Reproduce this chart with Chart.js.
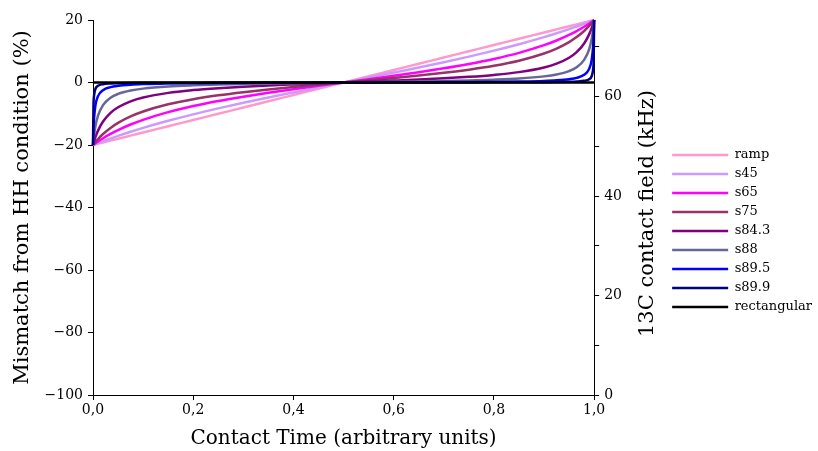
<!DOCTYPE html>
<html>
<head>
<meta charset="utf-8">
<script src="https://cdn.jsdelivr.net/npm/chart.js@4"></script>
<style>
  body { margin: 0; background: #fff; }
</style>
</head>
<body>
<canvas id="pulseChart" width="818" height="451"></canvas>
<script>
// Contact time axis (arbitrary units), denser near the pulse edges
const contactTime = [0, 0.001, 0.002, 0.005, 0.01, 0.02, 0.035, 0.05, 0.075, 0.1, 0.15, 0.2, 0.25, 0.3, 0.35, 0.4, 0.45, 0.5,
  0.55, 0.6, 0.65, 0.7, 0.75, 0.8, 0.85, 0.9, 0.925, 0.95, 0.965, 0.98, 0.99, 0.995, 0.998, 0.999, 1];

// Mismatch from HH condition (%) per pulse shape
const ramp = [-20, -19.96, -19.92, -19.8, -19.6, -19.2, -18.6, -18, -17, -16, -14, -12, -10, -8, -6, -4, -2, 0,
  2, 4, 6, 8, 10, 12, 14, 16, 17, 18, 18.6, 19.2, 19.6, 19.8, 19.92, 19.96, 20];
const s45 = [-20, -19.94, -19.87, -19.69, -19.38, -18.78, -17.92, -17.08, -15.77, -14.53, -12.26, -10.19, -8.28, -6.5, -4.8, -3.17, -1.57, 0,
  1.57, 3.17, 4.8, 6.5, 8.28, 10.19, 12.26, 14.53, 15.77, 17.08, 17.92, 18.78, 19.38, 19.69, 19.87, 19.94, 20];
const s65 = [-20, -19.88, -19.76, -19.42, -18.87, -17.83, -16.45, -15.22, -13.45, -11.94, -9.49, -7.55, -5.94, -4.55, -3.3, -2.15, -1.06, 0,
  1.06, 2.15, 3.3, 4.55, 5.94, 7.55, 9.49, 11.94, 13.45, 15.22, 16.45, 17.83, 18.87, 19.42, 19.76, 19.88, 20];
const s75 = [-20, -19.79, -19.59, -19, -18.09, -16.49, -14.53, -12.94, -10.87, -9.28, -6.98, -5.36, -4.11, -3.09, -2.22, -1.44, -0.71, 0,
  0.71, 1.44, 2.22, 3.09, 4.11, 5.36, 6.98, 9.28, 10.87, 12.94, 14.53, 16.49, 18.09, 19, 19.59, 19.79, 20];
const s843 = [-20, -19.42, -18.87, -17.4, -15.4, -12.5, -9.72, -7.93, -6.02, -4.81, -3.32, -2.43, -1.81, -1.33, -0.94, -0.61, -0.3, 0,
  0.3, 0.61, 0.94, 1.33, 1.81, 2.43, 3.32, 4.81, 6.02, 7.93, 9.72, 12.5, 15.4, 17.4, 18.87, 19.42, 20];
const s88 = [-20, -18.38, -17.01, -13.88, -10.63, -7.23, -4.87, -3.66, -2.57, -1.96, -1.29, -0.92, -0.67, -0.49, -0.35, -0.22, -0.11, 0,
  0.11, 0.22, 0.35, 0.49, 0.67, 0.92, 1.29, 1.96, 2.57, 3.66, 4.87, 7.23, 10.63, 13.88, 17.01, 18.38, 20];
const s895 = [-20, -14.73, -11.66, -7.17, -4.36, -2.45, -1.47, -1.05, -0.7, -0.52, -0.34, -0.24, -0.17, -0.13, -0.09, -0.06, -0.03, 0,
  0.03, 0.06, 0.09, 0.13, 0.17, 0.24, 0.34, 0.52, 0.7, 1.05, 1.47, 2.45, 4.36, 7.17, 11.66, 14.73, 20];
const s899 = [-20, -7.15, -4.35, -2, -1.05, -0.54, -0.31, -0.22, -0.14, -0.11, -0.07, -0.05, -0.03, -0.03, -0.02, -0.01, -0.01, 0,
  0.01, 0.01, 0.02, 0.03, 0.03, 0.05, 0.07, 0.11, 0.14, 0.22, 0.31, 0.54, 1.05, 2, 4.35, 7.15, 20];
const rectangular = [0, 0, 0, 0, 0, 0, 0, 0, 0, 0, 0, 0, 0, 0, 0, 0, 0, 0,
  0, 0, 0, 0, 0, 0, 0, 0, 0, 0, 0, 0, 0, 0, 0, 0, 0];

const shapeNames = ["ramp", "s45", "s65", "s75", "s84.3", "s88", "s89.5", "s89.9", "rectangular"];
const shapeValues = [ramp, s45, s65, s75, s843, s88, s895, s899, rectangular];
const shapeColors = ["#ff99cc", "#cc99ff", "#ff00ff", "#993366", "#800080", "#666699", "#0000ff", "#000080", "#000000"];

// Axis ticks
const timeTicks = [0, 0.2, 0.4, 0.6, 0.8, 1.0];
const mismatchTicks = [-100, -80, -60, -40, -20, 0, 20];
const fieldTicks = [0, 10, 20, 30, 40, 50, 60, 70];
const fieldMax = 75.4;

Chart.defaults.font.family = "'DejaVu Serif', serif";
Chart.defaults.color = "#000";

const setTicks = arr => scale => { scale.ticks = arr.map(v => ({ value: v })); };

// right axis title reads bottom-to-top, like the left one
const rightTitle = {
  id: "rightTitle",
  afterDraw(chart) {
    const s = chart.scales.y2;
    const ctx = chart.ctx;
    ctx.save();
    ctx.translate(s.left + 53, (s.top + s.bottom) / 2 + 6);
    ctx.rotate(-Math.PI / 2);
    ctx.font = "21px 'DejaVu Serif'";
    ctx.fillStyle = "#000";
    ctx.textAlign = "center";
    ctx.textBaseline = "middle";
    ctx.fillText("13C contact field (kHz)", 0, 0);
    ctx.restore();
  }
};

const axisGrid = { display: true, drawOnChartArea: false, tickLength: 5, color: "#000", tickColor: "#000" };

function drawChart() {
  const ctx = document.getElementById("pulseChart").getContext("2d");
  new Chart(ctx, {
    type: "line",
    data: {
      datasets: shapeNames.map((name, i) => ({
        label: name,
        data: contactTime.map((t, j) => ({ x: t, y: shapeValues[i][j] })),
        borderColor: shapeColors[i],
        backgroundColor: shapeColors[i],
        borderWidth: 2.5,
        pointRadius: 0,
        cubicInterpolationMode: "monotone",
        clip: 4,
        order: shapeNames.length - i,
        yAxisID: "y"
      }))
    },
    options: {
      responsive: false,
      animation: false,
      layout: { padding: { top: 20, bottom: 9, left: 0, right: -4 } },
      plugins: {
        tooltip: { enabled: false },
        legend: {
          position: "right",
          maxWidth: 200,
          labels: {
            font: { size: 13 },
            usePointStyle: true,
            pointStyle: "line",
            pointStyleWidth: 56,
            padding: 6,
            sort: (a, b) => a.datasetIndex - b.datasetIndex
          }
        }
      },
      scales: {
        x: {
          type: "linear",
          min: 0,
          max: 1,
          afterBuildTicks: setTicks(timeTicks),
          afterFit: s => { s.height = 47; },
          grid: axisGrid,
          border: { display: true, color: "#000", width: 1 },
          ticks: {
            font: { size: 14 },
            padding: 2,
            maxRotation: 0,
            callback: v => v.toFixed(1).replace(".", ",")
          },
          title: {
            display: true,
            text: "Contact Time (arbitrary units)",
            font: { size: 20 },
            padding: { top: 0, bottom: -9 }
          }
        },
        y: {
          position: "left",
          min: -100,
          max: 20,
          afterBuildTicks: setTicks(mismatchTicks),
          afterFit: s => { s.width = 93; },
          grid: axisGrid,
          border: { display: true, color: "#000", width: 1 },
          ticks: {
            font: { size: 14 },
            padding: 5,
            callback: v => v < 0 ? "\u2212" + Math.abs(v) : String(v)
          },
          title: {
            display: true,
            text: "Mismatch from HH condition (%)",
            font: { size: 21 },
            padding: { top: 10, bottom: 0 }
          }
        },
        y2: {
          position: "right",
          min: 0,
          max: fieldMax,
          afterBuildTicks: setTicks(fieldTicks),
          afterFit: s => { s.width = 72; },
          grid: axisGrid,
          border: { display: true, color: "#000", width: 1 },
          ticks: {
            font: { size: 14 },
            padding: 5,
            callback: v => v % 20 === 0 ? String(v) : ""
          }
        }
      }
    },
    plugins: [rightTitle]
  });
}

// make sure the serif font is ready before the legend is measured
Promise.all([
  document.fonts.load("13px 'DejaVu Serif'"),
  document.fonts.load("14px 'DejaVu Serif'"),
  document.fonts.load("20px 'DejaVu Serif'")
]).then(drawChart, drawChart);
</script>
</body>
</html>
